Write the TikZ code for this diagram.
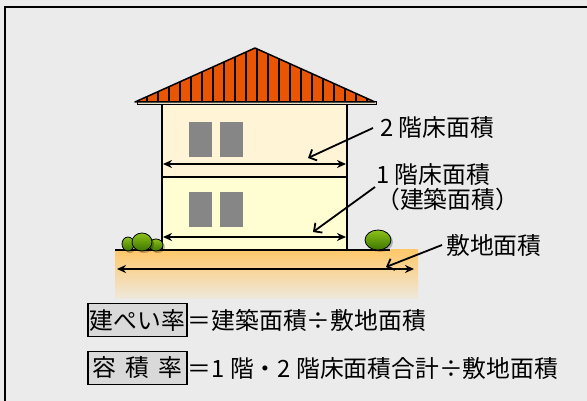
\documentclass[tikz,border=0pt]{standalone}
\usepackage{fontspec}
\setmainfont{Noto Sans CJK JP}
\usepackage{tikz}
\usetikzlibrary{arrows.meta,positioning}

\definecolor{bg}{HTML}{EBEBEB}
\definecolor{roof}{HTML}{EA5504}
\definecolor{floortwo}{HTML}{FFF4D6}
\definecolor{floorone}{HTML}{FFFDD2}
\definecolor{groundtop}{HTML}{FFC86A}
\definecolor{groundbot}{HTML}{EEE8DA}
\definecolor{leaf}{HTML}{8CC21A}
\definecolor{leafdark}{HTML}{3C7400}
\definecolor{boxgray}{HTML}{D9D9D9}

\tikzset{
  big/.style={font=\fontsize{23.8}{24.5}\selectfont},
  span/.style={line width=1.6pt,{Stealth[length=9pt,width=8pt]}-{Stealth[length=9pt,width=8pt]}},
  leader/.style={line width=1.8pt,-{Straight Barb[length=6pt,width=12pt]}},
  bush/.style={draw=black,line width=0.8pt,top color=leaf,bottom color=leafdark},
  term/.style={big,draw,line width=1.6pt,fill=boxgray,inner sep=0pt,minimum width=99pt,minimum height=33pt}
}

\begin{document}
\begin{tikzpicture}[x=1pt,y=-1pt]
    \useasboundingbox (0,0) rectangle (587,401);
    \fill[bg] (0,0) rectangle (587,401);
    \draw[line width=2.5pt] (5,7) rectangle (600,415);

    % ground
    \shade[top color=groundtop,bottom color=groundbot] (115,250) rectangle (418,298);

    % walls
    \fill[floortwo] (162,105) rectangle (347,177);
    \fill[floorone] (162,177) rectangle (347,250);
    \foreach \x in {189,220}
    {
      \fill[gray!95] (\x,122) rectangle ++(23,35);
      \fill[gray!95] (\x,192) rectangle ++(23,35);
    }
    \draw[line width=1.5pt] (162,105) -- (162,250) (347,105) -- (347,250) (162,177) -- (347,177);
    \draw[line width=1.5pt] (115,250) -- (390,250);

    % roof
    \draw[line width=1pt,fill=floortwo!80!gray] (137,102) rectangle (376,105);
    \begin{scope}
      \clip (135,102) -- (255,48) -- (375,102) -- cycle;
      \fill[roof] (135,102) -- (255,48) -- (375,102) -- cycle;
      \foreach \x in {0,...,20}
      {
        \draw[line width=1.3pt] (147+11*\x,102) -- (147+11*\x,40);
      }
    \end{scope}
    \draw[line width=1.5pt,line join=round] (135,102) -- (255,48) -- (375,102) -- cycle;

    % bushes
    \foreach \cx/\cy/\rx/\ry in {128/244/6/7,156/245/7/6,142/242/10/9,378/240/13/10}
    {
      \fill[black,opacity=0.25] (\cx+2,\cy+2) ellipse ({\rx} and {\ry});
      \draw[bush] (\cx,\cy) ellipse ({\rx} and {\ry});
    }

    % dimension arrows
    \coordinate (a2l) at (163,164);
    \coordinate (a2r) at (346,164);
    \coordinate (a1l) at (163,237);
    \coordinate (a1r) at (346,237);
    \coordinate (agl) at (117,269);
    \coordinate (agr) at (414,269);
    \draw[span] (a2l) -- (a2r);
    \draw[span] (a1l) -- (a1r);
    \draw[span] (agl) -- (agr);

    % labels and leaders
    \node[big,anchor=west,inner ysep=1pt,inner xsep=7pt] (l2) at (373,128) {2 階床面積};
    \node[big,anchor=west,inner sep=1pt,align=left] (l1) at (375,187) {1 階床面積\\（建築面積）};
    \node[big,anchor=west,inner ysep=1pt,inner xsep=4pt] (lg) at (442,245) {敷地面積};
    \coordinate (t2) at (308,158);
    \coordinate (t1) at (313,232);
    \coordinate (tg) at (386,267);
    \draw[leader] (l2.west) -- (t2);
    \draw[leader] (l1.west) -- (t1);
    \draw[leader] (lg.west) -- (tg);

    % formulas
    \node[term,anchor=west] (kp) at (87,320) {建ぺい率};
    \node[big,anchor=west,inner sep=0pt] (kpf) at (kp.east) {＝建築面積÷敷地面積};
    \node[term,anchor=west] (yr) at (87,368) {容\hspace{0.4em}積\hspace{0.4em}率};
    \node[big,anchor=west,inner sep=0pt] (yrf) at (yr.east) {＝1 階・2 階床面積合計÷敷地面積};
\end{tikzpicture}
\end{document}
